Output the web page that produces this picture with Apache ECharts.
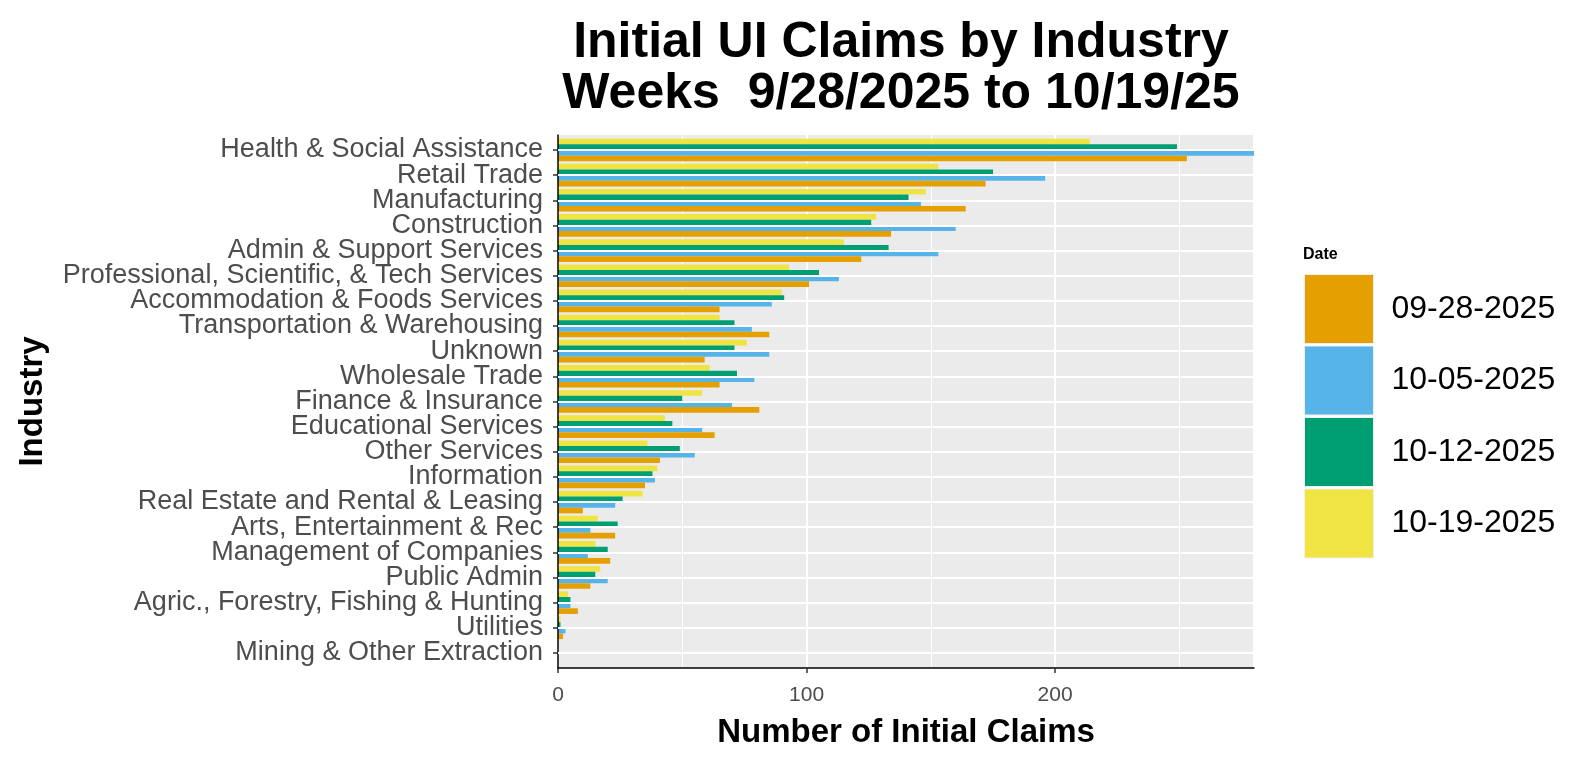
<!DOCTYPE html>
<html>
<head>
<meta charset="utf-8">
<script src="https://cdn.jsdelivr.net/npm/echarts@6/dist/echarts.min.js"></script>
<style>
html,body{margin:0;padding:0;background:#fff;}
#chart{width:1591px;height:766px;}
</style>
</head>
<body>
<div id="chart"></div>
<script>
// Categories listed top to bottom as in the picture
const industries = [
  "Health & Social Assistance",
  "Retail Trade",
  "Manufacturing",
  "Construction",
  "Admin & Support Services",
  "Professional, Scientific, & Tech Services",
  "Accommodation & Foods Services",
  "Transportation & Warehousing",
  "Unknown",
  "Wholesale Trade",
  "Finance & Insurance",
  "Educational Services",
  "Other Services",
  "Information",
  "Real Estate and Rental & Leasing",
  "Arts, Entertainment & Rec",
  "Management of Companies",
  "Public Admin",
  "Agric., Forestry, Fishing & Hunting",
  "Utilities",
  "Mining & Other Extraction"
];
const dates = ["09-28-2025", "10-05-2025", "10-12-2025", "10-19-2025"];
const colors = ["#E69F00", "#56B4E9", "#009E73", "#F0E442"];

const week0928 = [253, 172, 164, 134, 122, 101, 65, 85, 59, 65, 81, 63, 41, 35, 10, 23, 21, 13, 8, 2, 0];
const week1005 = [290, 196, 146, 160, 153, 113, 86, 78, 85, 79, 70, 58, 55, 39, 23, 13, 12, 20, 5, 3, 0];
const week1012 = [249, 175, 141, 126, 133, 105, 91, 71, 71, 72, 50, 46, 49, 38, 26, 24, 20, 15, 5, 1, 0];
const week1019 = [214, 153, 148, 128, 115, 93, 90, 65, 76, 61, 58, 43, 36, 40, 34, 16, 15, 17, 4, 1, 0];

const xTicks = { min: 0, max: 280, major: 100, minor: 50 };

const seriesValues = [week0928, week1005, week1012, week1019];
const cats = industries.slice().reverse();

const chart = echarts.init(document.getElementById('chart'));
const font = "Liberation Sans, Arial, sans-serif";

// bars: series 0 is drawn at the top of each group, so newest week first
const barSeries = [3, 2, 1, 0].map(i => ({
  name: dates[i], type: 'bar', xAxisIndex: 2, yAxisIndex: 1,
  data: seriesValues[i].slice().reverse(),
  barGap: '0%', barCategoryGap: '10%',
  itemStyle: { color: colors[i] },
  clip: true, z: 3
}));

const gridLineSeries = {
  type: 'line', xAxisIndex: 2, yAxisIndex: 1, data: [], z: 1, silent: true,
  markLine: {
    silent: true, symbol: ['none', 'none'], label: { show: false },
    lineStyle: { color: '#ffffff', width: 2, type: 'solid' },
    data: cats.map(c => ({ yAxis: c }))
  }
};

chart.setOption({
  animation: false,
  backgroundColor: '#ffffff',
  color: colors,
  title: {
    text: 'Initial UI Claims by Industry\nWeeks  9/28/2025 to 10/19/25',
    left: 896, top: 13, textAlign: 'center',
    textStyle: { fontFamily: font, fontSize: 50, fontWeight: 'bold', color: '#000', lineHeight: 51 }
  },
  legend: {
    orient: 'vertical',
    left: 1299, top: 269,
    itemWidth: 69, itemHeight: 69, itemGap: 1.5,
    icon: 'rect',
    data: dates,
    textStyle: { fontFamily: font, fontSize: 32, color: '#000', padding: [0, 0, 0, 13] },
    itemStyle: { borderColor: '#f0f0f0', borderWidth: 1 }
  },
  graphic: [{
    type: 'text', left: 1303, top: 247,
    style: { text: 'Date', font: 'bold 16px ' + font, fill: '#000' }
  }],
  grid: [
    { left: 558, right: 337, top: 135, bottom: 98, show: true, backgroundColor: '#EBEBEB', borderWidth: 0 },
    { left: 558, right: 337, top: 137.4, bottom: 100.5, show: false }
  ],
  xAxis: [{
    gridIndex: 0, type: 'value', min: xTicks.min, max: xTicks.max, interval: xTicks.major,
    name: 'Number of Initial Claims', nameLocation: 'middle', nameGap: 48,
    nameTextStyle: { fontFamily: font, fontSize: 33, fontWeight: 'bold', color: '#000' },
    axisLine: { show: true, lineStyle: { color: '#000', width: 1.5 } },
    axisTick: { show: true, length: 5, lineStyle: { color: '#333', width: 1.5 } },
    axisLabel: { fontFamily: font, fontSize: 21, color: '#4D4D4D', margin: 17, showMaxLabel: false },
    splitLine: { show: true, lineStyle: { color: '#fff', width: 2 } },
    z: 0
  }, {
    gridIndex: 0, type: 'value', min: xTicks.min, max: xTicks.max, interval: xTicks.minor,
    position: 'bottom',
    axisLine: { show: false }, axisTick: { show: false }, axisLabel: { show: false },
    splitLine: { show: true, lineStyle: { color: '#fff', width: 1 } },
    z: 0
  }, {
    gridIndex: 1, type: 'value', min: xTicks.min, max: xTicks.max, show: false
  }],
  yAxis: [{
    gridIndex: 0, type: 'value', min: 0, max: 1,
    name: 'Industry', nameLocation: 'middle', nameGap: 509, nameRotate: 90,
    nameTextStyle: { fontFamily: font, fontSize: 33, fontWeight: 'bold', color: '#000' },
    axisLine: { show: true, lineStyle: { color: '#000', width: 1.5 } },
    axisTick: { show: false }, axisLabel: { show: false }, splitLine: { show: false },
    z: 4
  }, {
    gridIndex: 1, type: 'category', data: cats,
    axisLine: { show: false },
    axisTick: { show: true, alignWithLabel: true, length: 5, lineStyle: { color: '#333', width: 1.5 } },
    axisLabel: { fontFamily: font, fontSize: 27, color: '#4D4D4D', margin: 15, interval: 0 },
    splitLine: { show: false }
  }],
  series: [gridLineSeries].concat(barSeries)
});
</script>
</body>
</html>
